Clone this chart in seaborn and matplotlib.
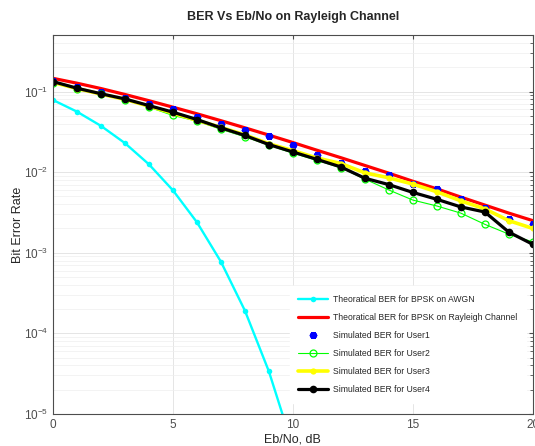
import numpy as np
import pandas as pd
import matplotlib
matplotlib.use('Agg')
import matplotlib.pyplot as plt
import seaborn as sns

ebno_awgn = [0, 1, 2, 3, 4, 5, 6, 7, 8, 9, 10]
ber_awgn = [0.0786, 0.0563, 0.0375, 0.0229, 0.0125, 0.00595, 0.00239,
            0.000773, 0.000191, 3.36e-5, 3.87e-6]

ebno = list(range(0, 21))
ber_rayleigh = [0.146, 0.127, 0.109, 0.092, 0.077, 0.064, 0.053, 0.0435, 0.0355,
                0.0288, 0.0233, 0.0187, 0.0151, 0.0121, 0.0097, 0.0077, 0.0062,
                0.0049, 0.0039, 0.0031, 0.0025]
ber_user1 = [0.136, 0.115, 0.098, 0.084, 0.070, 0.060, 0.049, 0.040, 0.033,
             0.0277, 0.022, 0.0164, 0.0130, 0.0102, 0.0091, 0.0072, 0.0061,
             0.0047, 0.0036, 0.00265, 0.0023]
ber_user2 = [0.128, 0.108, 0.092, 0.079, 0.064, 0.0505, 0.043, 0.034, 0.0275,
             0.0215, 0.0172, 0.0140, 0.0113, 0.0082, 0.0060, 0.0045, 0.0038,
             0.0031, 0.00225, 0.0017, 0.00136]
ber_user3 = [0.130, 0.109, 0.093, 0.080, 0.066, 0.054, 0.044, 0.036, 0.029,
             0.0225, 0.0185, 0.0150, 0.0128, 0.0098, 0.0085, 0.0071, 0.0057,
             0.0044, 0.0035, 0.0025, 0.0020]
ber_user4 = [0.133, 0.110, 0.094, 0.081, 0.067, 0.0555, 0.045, 0.0355, 0.0285,
             0.022, 0.0178, 0.0144, 0.0116, 0.0084, 0.0070, 0.0056, 0.0046,
             0.0037, 0.0032, 0.0018, 0.00127]

labels = ['Theoratical BER for BPSK on AWGN',
          'Theoratical BER for BPSK on Rayleigh Channel',
          'Simulated BER for User1',
          'Simulated BER for User2',
          'Simulated BER for User3',
          'Simulated BER for User4']

df_awgn = pd.DataFrame({'EbNo': ebno_awgn, 'BER': ber_awgn})
df = pd.DataFrame({'EbNo': ebno, 'Rayleigh': ber_rayleigh, 'User1': ber_user1,
                   'User2': ber_user2, 'User3': ber_user3, 'User4': ber_user4})

sns.set_style('white')
plt.rcParams['font.family'] = ['Liberation Sans', 'DejaVu Sans']
plt.rcParams['mathtext.fontset'] = 'custom'
plt.rcParams['mathtext.rm'] = 'Liberation Sans'

fig = plt.figure(figsize=(5.35, 4.46), dpi=100)
ax = fig.add_axes([0.099, 0.072, 0.897, 0.849])

sns.lineplot(x='EbNo', y='BER', data=df_awgn, ax=ax, color='#00ffff', lw=1.7,
             marker='o', markersize=4, markeredgewidth=0, label=labels[0])
sns.lineplot(x='EbNo', y='Rayleigh', data=df, ax=ax, color='red', lw=2.3,
             label=labels[1])
ax.plot(df['EbNo'], df['User1'], ls='none', color='blue', marker=(6, 2, 0),
        markersize=5, markeredgewidth=2.5, label=labels[2])
sns.lineplot(x='EbNo', y='User2', data=df, ax=ax, color='#00ff00', lw=0.8,
             marker='o', markersize=5, markerfacecolor='none',
             markeredgecolor='#00ff00', markeredgewidth=0.9, label=labels[3])
sns.lineplot(x='EbNo', y='User3', data=df, ax=ax, color='#ffff00', lw=2.6,
             marker='o', markersize=4.5, markeredgewidth=0, label=labels[4])
sns.lineplot(x='EbNo', y='User4', data=df, ax=ax, color='black', lw=2.3,
             marker='o', markersize=5.5, markeredgewidth=0, label=labels[5])

ax.set_yscale('log')
ax.set_xlim(0, 20)
ax.set_ylim(1e-5, 0.5)
ax.set_xticks([0, 5, 10, 15, 20])
ax.grid(True, which='major', color='#e0e0e0', lw=0.6)
ax.grid(True, which='minor', axis='y', color='#efefef', lw=0.5)
ax.tick_params(which='both', direction='in', top=True, right=True,
               colors='0.3', labelsize=8.5, length=3)
ax.tick_params(which='minor', length=2)
for s in ax.spines.values():
    s.set_color('0.3')
    s.set_linewidth(0.8)

ax.set_title('BER Vs Eb/No on Rayleigh Channel', fontsize=9, fontweight='bold', pad=11)
ax.set_xlabel('Eb/No, dB', fontsize=9, color='0.15', labelpad=2)
ax.set_ylabel('Bit Error Rate', fontsize=9, color='0.15', labelpad=0)

leg = ax.legend(loc='lower right', bbox_to_anchor=(0.985, 0.029), fontsize=6.2,
                frameon=True, framealpha=1, edgecolor='white', fancybox=False,
                borderaxespad=0.0, handlelength=3.4, handletextpad=0.6,
                labelspacing=1.05, borderpad=1.0)

fig.savefig('out.png', dpi=100)
